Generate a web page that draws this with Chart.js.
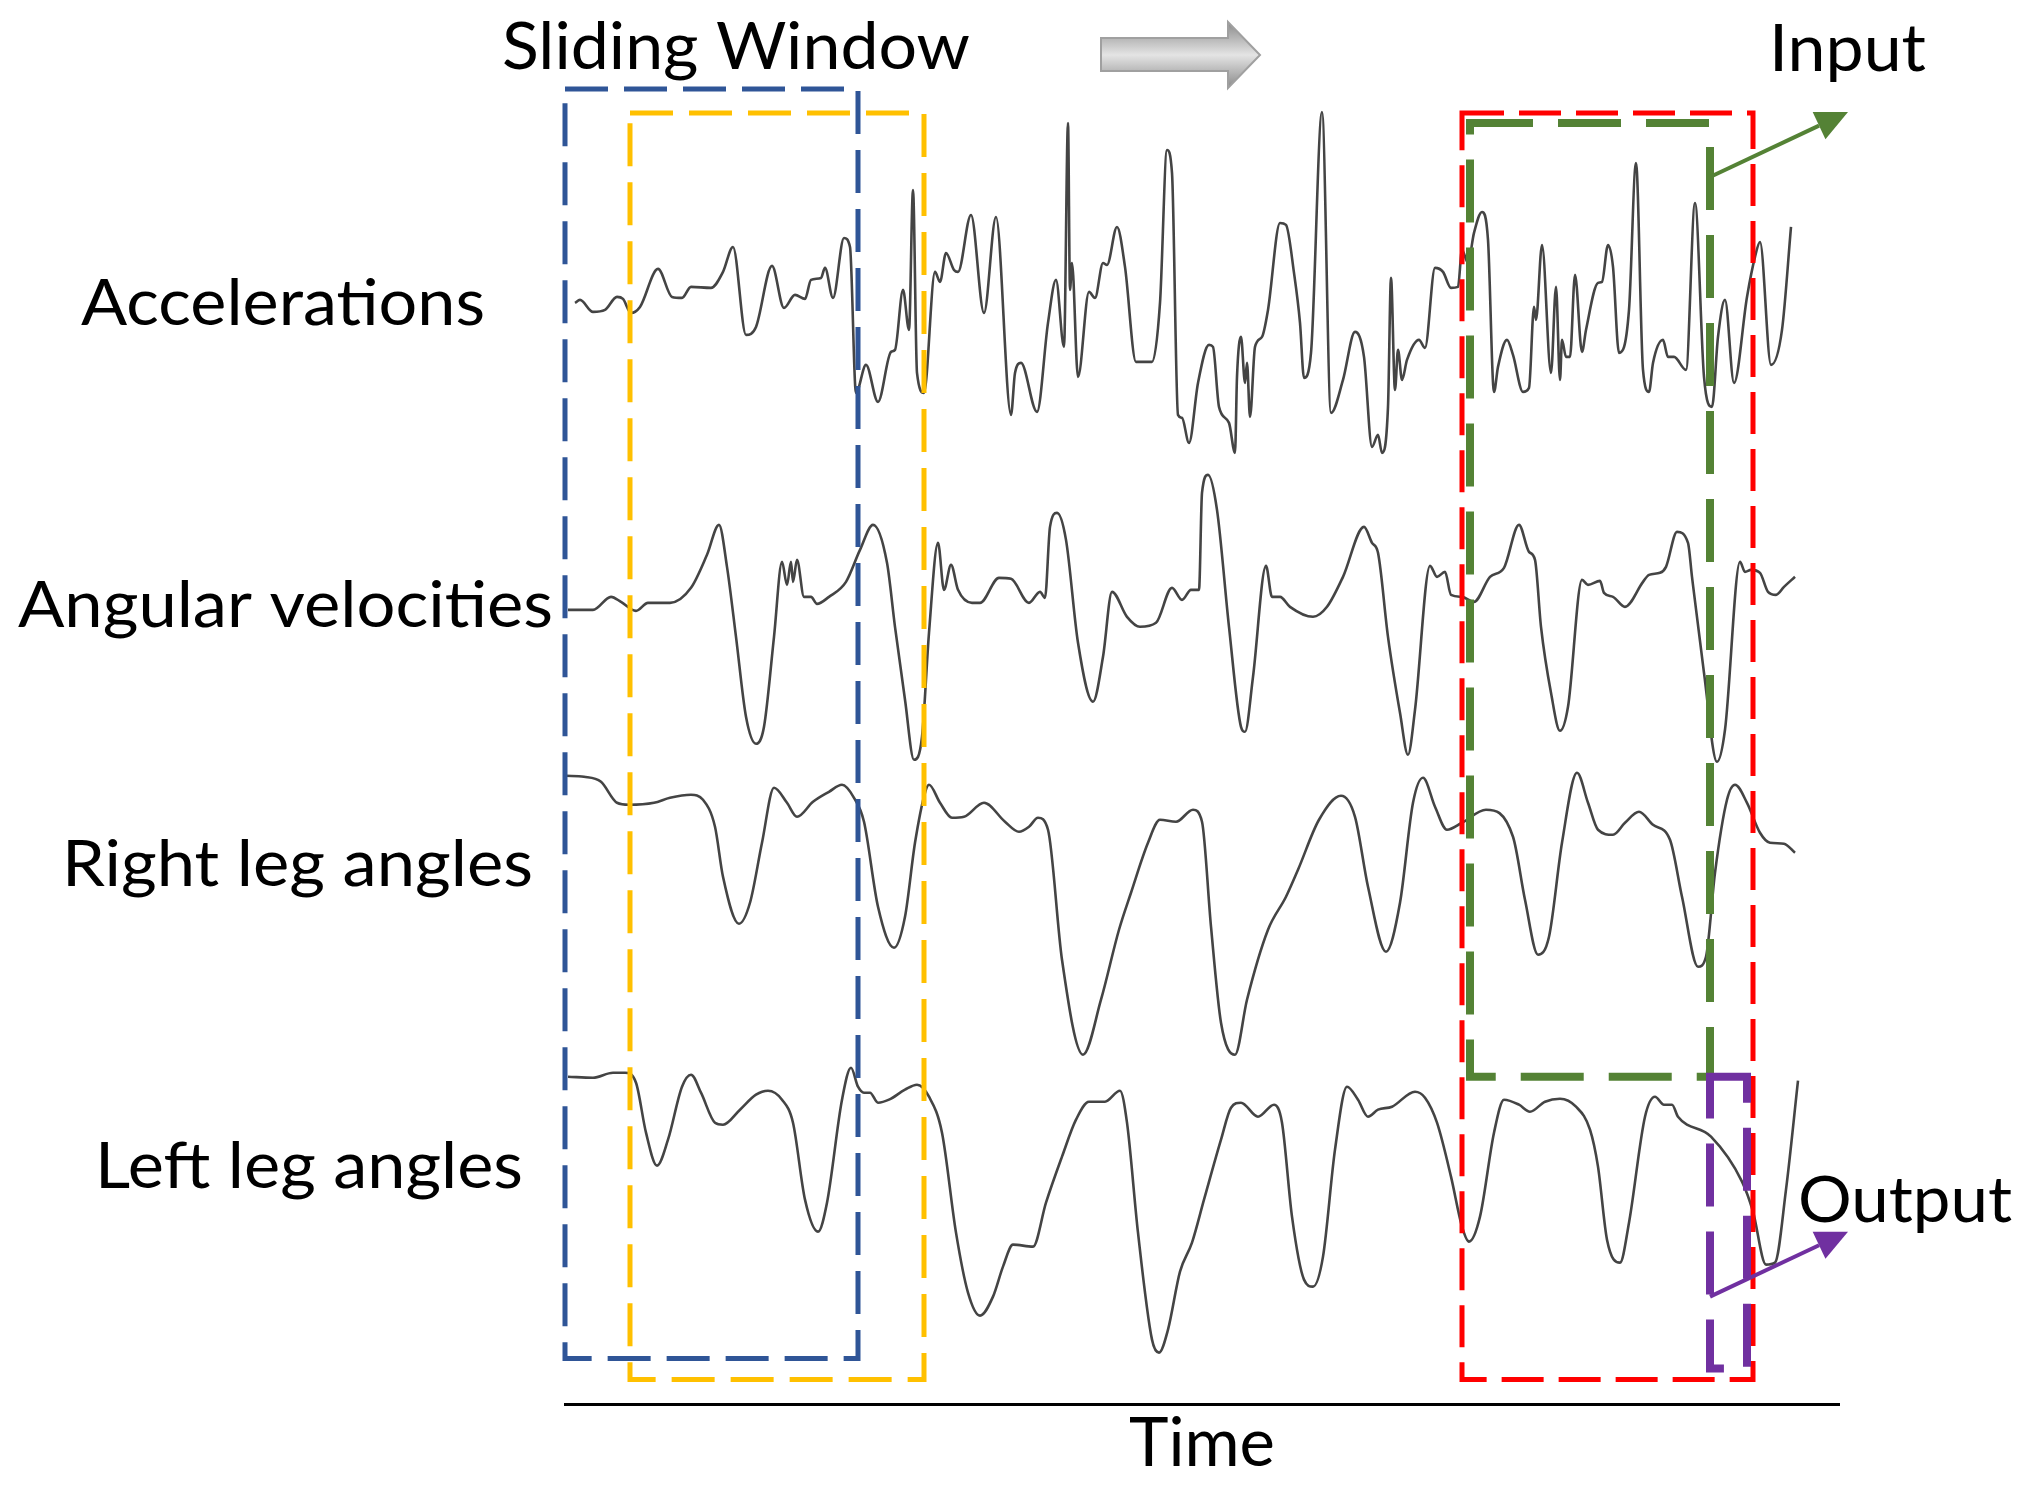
<!DOCTYPE html>
<html>
<head>
<meta charset="utf-8">
<script src="https://cdn.jsdelivr.net/npm/chart.js@4.4.0/dist/chart.umd.min.js"></script>
<style>
  html, body { margin: 0; padding: 0; background: #fff; }
  canvas { display: block; }
</style>
</head>
<body>
<canvas id="chart" width="2027" height="1489"></canvas>
<script>
// time in samples, amplitude relative to each channel's baseline
const accTime = [
  10, 15, 28, 40, 52, 58, 66, 75, 93, 107,
  117, 126, 146, 158, 168, 181, 191, 207, 219, 230,
  240, 246, 256, 260, 268, 279, 285, 291, 301, 313,
  326, 330, 338, 344, 348, 352, 359, 370, 375, 381,
  389, 393, 406, 419, 431, 446, 450, 456, 472, 483,
  491, 499, 503, 505, 507, 513, 524, 530, 538, 542,
  552, 560, 571, 587, 595, 602, 607, 613, 617, 624,
  633, 644, 648, 654, 664, 670, 672, 676, 680, 682,
  685, 690, 697, 703, 715, 721, 729, 735, 739, 746,
  757, 766, 778, 790, 799, 807, 813, 817, 823, 826,
  830, 833, 837, 842, 854, 860, 870, 878, 886, 893,
  897, 903, 909, 917, 923, 929, 933, 942, 948, 958,
  964, 969, 971, 977, 986, 991, 995, 997, 1001, 1005,
  1010, 1017, 1021, 1033, 1037, 1043, 1048, 1054, 1064, 1071,
  1078, 1084, 1088, 1098, 1103, 1109, 1121, 1130, 1139, 1147,
  1153, 1160, 1169, 1182, 1190, 1195, 1206, 1217, 1226
];
const accAmp = [
  1, 4, -8, -6, 7, 5, -9, -3, 35, 7,
  6, 17, 16, 32, 57, -31, -23, 38, -4, 9,
  5, 24, 26, 36, 6, 66, 57, -89, -61, -98,
  -48, -46, 14, -26, 114, -69, -89, 32, 22, 51,
  34, 32, 89, -9, 87, -111, -69, -59, -108, -19,
  24, -43, 181, 14, 41, -73, 12, 6, 41, 39,
  77, 37, -58, -58, 1, 154, 131, -111, -114, -139,
  -79, -41, -43, -103, -119, -149, -73, -33, -79, -59,
  -113, -43, -33, -6, 81, 79, 31, -19, -74, -49,
  192, -109, -76, -28, -53, -143, -131, -149, -103, 26,
  -86, -46, -76, -56, -36, -44, 36, 32, 16, 17,
  54, 41, 71, 92, 64, -88, -63, -36, -51, -88,
  -84, -3, -16, 59, -69, 17, -76, -36, -53, -53,
  29, -48, -26, 21, 22, 59, 37, -49, -6, 141,
  -66, -88, -59, -36, -53, -53, -66, 101, -73, -103,
  -33, 4, -79, 7, 47, 62, -61, -26, 77
];

const angTime = [
  3, 28, 46, 56, 71, 83, 105, 126, 142, 154,
  162, 171, 181, 191, 199, 209, 217, 222, 226, 228,
  232, 239, 246, 252, 264, 281, 295, 308, 322, 330,
  340, 349, 357, 364, 373, 379, 386, 393, 407, 415,
  434, 446, 464, 475, 480, 485, 492, 501, 513, 528,
  538, 547, 562, 575, 591, 607, 617, 626, 634, 637,
  643, 652, 664, 676, 680, 688, 701, 707, 715, 725,
  748, 762, 778, 799, 807, 813, 823, 835, 843, 850,
  865, 872, 880, 886, 897, 909, 925, 939, 954, 964,
  970, 976, 986, 995, 1003, 1017, 1023, 1035, 1039, 1048,
  1060, 1078, 1084, 1095, 1101, 1112, 1123, 1127, 1139, 1152,
  1160, 1175, 1180, 1186, 1195, 1203, 1211, 1219, 1230
];
const angAmp = [
  0, 0, 13, 8, -1, 7, 7, 22, 55, 85,
  43, -27, -107, -134, -117, -27, 48, 25, 48, 28,
  50, 13, 13, 6, 13, 28, 60, 85, 47, -17,
  -90, -150, -127, -23, 67, 20, 45, 20, 7, 7,
  32, 31, 7, 18, 12, 83, 97, 70, -33, -92,
  -47, 18, -7, -17, -13, 22, 10, 20, 20, 117,
  135, 100, -17, -117, -122, -67, 44, 13, 13, 3,
  -7, 3, 33, 83, 67, 57, -27, -103, -145, -100,
  44, 33, 38, 15, 13, 8, 33, 42, 85, 58,
  50, -17, -83, -121, -97, 30, 25, 29, 17, 13,
  3, 28, 35, 37, 43, 78, 67, 33, -63, -152,
  -120, 48, 38, 40, 37, 18, 15, 23, 33
];

const rightTime = [
  1, 19, 36, 52, 64, 89, 105, 126, 138, 150,
  158, 174, 185, 197, 209, 222, 232, 248, 264, 277,
  289, 299, 313, 329, 340, 350, 360, 364, 375, 387,
  399, 419, 440, 454, 464, 473, 483, 497, 518, 536,
  554, 566, 583, 595, 611, 628, 637, 646, 656, 670,
  682, 703, 721, 733, 754, 776, 790, 803, 821, 835,
  848, 858, 870, 882, 897, 921, 948, 960, 973, 984,
  997, 1012, 1023, 1033, 1048, 1060, 1074, 1088, 1105, 1117,
  1133, 1141, 1150, 1162, 1170, 1182, 1195, 1205, 1219, 1230
];
const rightAmp = [
  0, -1, -6, -27, -29, -27, -22, -19, -24, -51,
  -101, -148, -127, -67, -12, -27, -41, -26, -16, -9,
  -22, -46, -131, -172, -141, -67, -17, -9, -27, -42,
  -41, -27, -46, -56, -51, -42, -54, -184, -279, -224,
  -154, -117, -67, -44, -46, -34, -46, -151, -247, -279,
  -224, -154, -121, -94, -44, -20, -41, -111, -176, -127,
  -27, -2, -31, -54, -47, -34, -61, -124, -179, -161,
  -67, 3, -27, -54, -59, -47, -36, -49, -64, -121,
  -191, -181, -97, -24, -9, -27, -57, -67, -68, -77
];

const leftTime = [
  3, 28, 48, 60, 71, 81, 92, 103, 117, 126,
  136, 150, 158, 175, 191, 203, 217, 228, 240, 253,
  262, 277, 286, 293, 299, 305, 313, 324, 340, 352,
  364, 377, 391, 403, 415, 428, 438, 448, 468, 481,
  497, 511, 524, 540, 555, 562, 573, 587, 594, 603,
  615, 627, 639, 656, 666, 676, 693, 709, 717, 727,
  739, 748, 758, 770, 782, 793, 803, 813, 827, 850,
  860, 872, 886, 897, 904, 915, 929, 939, 954, 965,
  980, 995, 1011, 1025, 1033, 1042, 1055, 1064, 1080, 1090,
  1099, 1107, 1113, 1146, 1177, 1188, 1201, 1210, 1221, 1233
];
const leftAmp = [
  0, -1, 4, 4, -6, -56, -89, -63, -10, 2,
  -16, -46, -48, -33, -18, -14, -23, -46, -123, -155,
  -126, -23, 9, -10, -16, -16, -26, -23, -13, -8,
  -20, -56, -156, -216, -239, -220, -190, -168, -170, -126,
  -80, -43, -25, -25, -14, -46, -156, -263, -276, -253,
  -195, -166, -123, -63, -31, -26, -40, -28, -46, -140,
  -203, -210, -180, -73, -10, -23, -40, -33, -30, -15,
  -21, -46, -100, -150, -165, -140, -56, -23, -28, -35,
  -25, -22, -30, -53, -90, -163, -186, -146, -40, -20,
  -28, -28, -40, -60, -105, -135, -188, -186, -113, -4
];

const channelNames = ['Accelerations', 'Angular velocities', 'Right leg angles', 'Left leg angles'];
const channelOffsets = [1101, 795, 629, 328];

// sliding windows: blue, yellow (next step), red (current), green input, purple output
const windowStart = [0, 65, 897, 905, 1145];
const windowEnd = [293, 359, 1188, 1145, 1182];
const windowTop = [1316, 1292, 1292, 1282, 328];
const windowBottom = [46, 25, 25, 328, 36];

const windowStyle = [
  { color: '#2F5597', width: 5, dash: [43, 16] },
  { color: '#FFC000', width: 5, dash: [43, 16] },
  { color: '#FF0000', width: 5, dash: [42, 15] },
  { color: '#548235', width: 8, dash: [63, 25] },
  { color: '#7030A0', width: 8, dash: [63, 25] }
];

// arrows from the green (input) and purple (output) windows to their labels
const arrows = [
  { from: [1145, 1228], to: [1283, 1293], color: '#548235' },
  { from: [1145, 108], to: [1283, 173], color: '#7030A0' }
];

const labels = [
  { text: 'Sliding Window', left: 502, right: 970, base: 69, size: 65 },
  { text: 'Input', left: 1769, right: 1926, base: 71, size: 66 },
  { text: 'Accelerations', left: 81, right: 485, base: 325, size: 64 },
  { text: 'Angular velocities', left: 18, right: 553, base: 627, size: 64 },
  { text: 'Right leg angles', left: 62, right: 533, base: 886, size: 64 },
  { text: 'Left leg angles', left: 95, right: 523, base: 1188, size: 64 },
  { text: 'Output', left: 1798, right: 2012, base: 1222, size: 63 }
];

function series(times, amps, offset) {
  return times.map((t, i) => ({ x: t, y: amps[i] + offset }));
}

const traces = [
  [accTime, accAmp], [angTime, angAmp], [rightTime, rightAmp], [leftTime, leftAmp]
];

const datasets = traces.map((tr, i) => ({
  label: channelNames[i],
  data: series(tr[0], tr[1], channelOffsets[i]),
  borderColor: '#444444',
  borderWidth: 2.6,
  pointRadius: 0,
  fill: false,
  cubicInterpolationMode: 'monotone',
  clip: false
}));

function drawArrow(ctx, x0, y0, x1, y1, color) {
  const ang = Math.atan2(y1 - y0, x1 - x0);
  const len = 32, half = 15;
  const bx = x1 - len * Math.cos(ang), by = y1 - len * Math.sin(ang);
  ctx.strokeStyle = color;
  ctx.fillStyle = color;
  ctx.lineWidth = 4;
  ctx.setLineDash([]);
  ctx.beginPath();
  ctx.moveTo(x0, y0);
  ctx.lineTo(bx, by);
  ctx.stroke();
  ctx.beginPath();
  ctx.moveTo(x1, y1);
  ctx.lineTo(bx + half * Math.sin(ang), by - half * Math.cos(ang));
  ctx.lineTo(bx - half * Math.sin(ang), by + half * Math.cos(ang));
  ctx.closePath();
  ctx.fill();
}

const overlay = {
  id: 'overlay',
  afterDatasetsDraw(chart) {
    const { ctx, scales: { x, y } } = chart;
    ctx.save();

    windowStart.forEach((s, i) => {
      const st = windowStyle[i];
      const left = x.getPixelForValue(s), right = x.getPixelForValue(windowEnd[i]);
      const top = y.getPixelForValue(windowTop[i]), bottom = y.getPixelForValue(windowBottom[i]);
      ctx.strokeStyle = st.color;
      ctx.lineWidth = st.width;
      ctx.setLineDash(st.dash);
      ctx.strokeRect(left, top, right - left, bottom - top);
    });

    arrows.forEach(a => {
      drawArrow(ctx, x.getPixelForValue(a.from[0]), y.getPixelForValue(a.from[1]),
        x.getPixelForValue(a.to[0]), y.getPixelForValue(a.to[1]), a.color);
    });

    // grey block arrow next to the title
    const g = ctx.createLinearGradient(0, 22, 0, 88);
    g.addColorStop(0, '#8a8a8a');
    g.addColorStop(0.5, '#e4e4e4');
    g.addColorStop(1, '#8a8a8a');
    ctx.beginPath();
    ctx.moveTo(1101, 38);
    ctx.lineTo(1228, 38);
    ctx.lineTo(1228, 22);
    ctx.lineTo(1260, 55);
    ctx.lineTo(1228, 88);
    ctx.lineTo(1228, 71);
    ctx.lineTo(1101, 71);
    ctx.closePath();
    ctx.fillStyle = g;
    ctx.fill();
    ctx.setLineDash([]);
    ctx.lineWidth = 2;
    ctx.strokeStyle = '#a0a0a0';
    ctx.stroke();

    ctx.fillStyle = '#000';
    ctx.textBaseline = 'alphabetic';
    labels.forEach(l => {
      ctx.font = l.size + 'px Lato';
      const w = ctx.measureText(l.text).width;
      ctx.save();
      ctx.translate(l.left, l.base);
      ctx.scale((l.right - l.left) / w, 1);
      ctx.fillText(l.text, 0, 0);
      ctx.restore();
    });

    ctx.restore();
  }
};

new Chart(document.getElementById('chart'), {
  type: 'line',
  data: { datasets: datasets },
  options: {
    responsive: false,
    devicePixelRatio: 1,
    animation: false,
    layout: { padding: { left: 565, right: 188, top: 0, bottom: 4 } },
    plugins: { legend: { display: false }, tooltip: { enabled: false } },
    scales: {
      x: {
        type: 'linear',
        min: 0,
        max: 1274,
        grid: { display: false, drawTicks: false },
        border: { display: true, color: '#000', width: 3 },
        ticks: { display: false },
        title: {
          display: true,
          text: 'Time',
          color: '#000',
          font: { family: 'Lato', size: 67, lineHeight: 1.2 },
          padding: { top: 0, bottom: 0 }
        }
      },
      y: {
        display: false,
        min: 0,
        max: 1405
      }
    }
  },
  plugins: [overlay]
});
</script>
</body>
</html>
